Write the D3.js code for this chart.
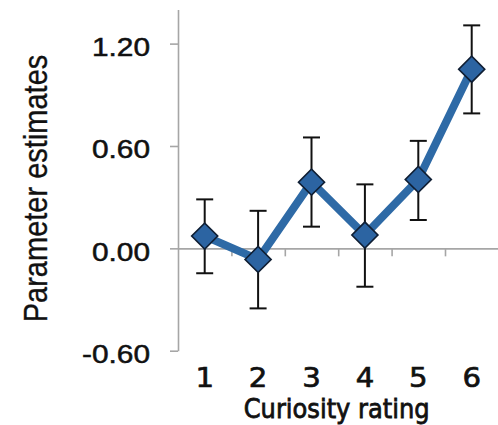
<!DOCTYPE html>
<html>
<head>
<meta charset="utf-8">
<script src="https://cdn.jsdelivr.net/npm/d3@7"></script>
<style>
  html, body { margin: 0; padding: 0; background: #fff; }
  svg { display: block; }
</style>
</head>
<body>
<svg id="chart" width="498" height="425"></svg>
<script>
const categories = ["1", "2", "3", "4", "5", "6"];
const estimates = [0.072, -0.065, 0.388, 0.078, 0.404, 1.05];
const errUpper = [0.287, 0.22, 0.65, 0.375, 0.63, 1.307];
const errLower = [-0.146, -0.352, 0.127, -0.225, 0.166, 0.791];
const yTickValues = [-0.6, 0, 0.6, 1.2];
const yTickLabels = ["-0.60", "0.00", "0.60", "1.20"];
const xTitle = "Curiosity rating";
const yTitle = "Parameter estimates";

const svg = d3.select("#chart");

const x = d3.scaleBand().domain(categories).range([178, 498.4]).padding(0);
const xb = d3.scaleLinear().domain([0, categories.length]).range([178, 498.4]);
const y = d3.scaleLinear().domain([-0.6, 1.4]).range([350.7, 9.5]);
const cx = c => x(c) + x.bandwidth() / 2;

// Y axis
const yAxis = d3.axisLeft(y).tickValues(yTickValues).tickSize(8).tickSizeOuter(0)
  .tickFormat((d, i) => yTickLabels[i]);
const gy = svg.append("g").attr("transform", "translate(178,0)").call(yAxis);
gy.selectAll("path.domain").attr("stroke", "#a6a6a6").attr("stroke-width", 1.6);
gy.selectAll(".tick line").attr("stroke", "#a6a6a6").attr("stroke-width", 1.6);
gy.selectAll(".tick text").remove();
gy.selectAll(".tick").append("text")
  .attr("transform", "translate(-28,12) scale(1.17,1)")
  .attr("text-anchor", "end")
  .attr("fill", "#111")
  .style("font-family", "'Liberation Sans', Arial, sans-serif")
  .style("font-size", "25.5px")
  .style("stroke", "#111").style("stroke-width", "0.5px")
  .text((d, i) => yTickLabels[i]);

// X axis at zero
const xAxis = d3.axisBottom(xb).tickValues(d3.range(1, categories.length + 1)).tickSize(8).tickSizeOuter(0).tickFormat("");
const gx = svg.append("g").attr("transform", `translate(0,${y(0)})`).call(xAxis);
gx.selectAll("path.domain").attr("stroke", "#a6a6a6").attr("stroke-width", 1.6);
gx.selectAll(".tick line").attr("stroke", "#a6a6a6").attr("stroke-width", 1.6);

// Category labels
svg.append("g").selectAll("text").data(categories).join("text")
  .attr("transform", d => `translate(${cx(d)},386.7) scale(1.08,1)`)
  .attr("text-anchor", "middle")
  .attr("fill", "#111")
  .style("font-family", "'DejaVu Sans', Verdana, sans-serif")
  .style("font-size", "27px")
  .style("stroke", "#111").style("stroke-width", "0.7px")
  .text(d => d);

// Axis titles
svg.append("text")
  .attr("transform", "translate(336.7,418.3) scale(0.93,1)")
  .attr("text-anchor", "middle")
  .attr("fill", "#111")
  .style("font-family", "'DejaVu Sans', Verdana, sans-serif")
  .style("font-size", "26px")
  .style("stroke", "#111").style("stroke-width", "0.8px")
  .text(xTitle);

svg.append("text")
  .attr("transform", "translate(47,188.5) rotate(-90) scale(1,1.15)")
  .attr("text-anchor", "middle")
  .attr("fill", "#111")
  .style("font-family", "'Liberation Sans', Arial, sans-serif")
  .style("font-size", "29px")
  .style("stroke", "#111").style("stroke-width", "0.3px")
  .text(yTitle);

// Error bars
const eb = svg.append("g").attr("stroke", "#111").attr("stroke-width", 2);
categories.forEach((c, i) => {
  eb.append("line").attr("x1", cx(c)).attr("x2", cx(c)).attr("y1", y(errUpper[i])).attr("y2", y(errLower[i]));
  eb.append("line").attr("x1", cx(c) - 8.5).attr("x2", cx(c) + 8.5).attr("y1", y(errUpper[i])).attr("y2", y(errUpper[i]));
  eb.append("line").attr("x1", cx(c) - 8.5).attr("x2", cx(c) + 8.5).attr("y1", y(errLower[i])).attr("y2", y(errLower[i]));
});

// Line
const pts = categories.map((c, i) => [cx(c), y(estimates[i])]);
svg.append("path")
  .attr("d", d3.line()(pts))
  .attr("fill", "none")
  .attr("stroke", "#2e6aa6")
  .attr("stroke-width", 8)
  .attr("stroke-linejoin", "round");

// Diamonds
const sym = d3.symbol(d3.symbolSquare, 340);
svg.append("g").selectAll("path").data(pts).join("path")
  .attr("transform", d => `translate(${d[0]},${d[1]}) rotate(45)`)
  .attr("d", sym)
  .attr("fill", "#2c64a2")
  .attr("stroke", "#0f1e33")
  .attr("stroke-width", 1.6);
</script>
</body>
</html>
